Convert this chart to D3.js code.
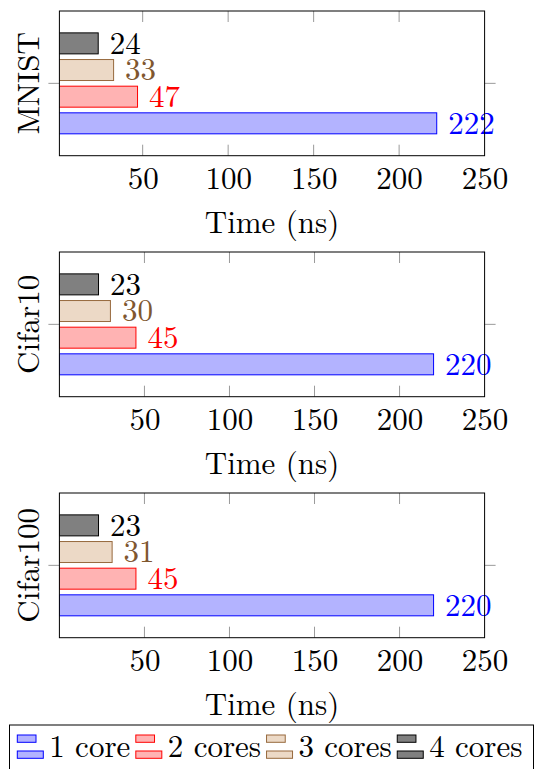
<!DOCTYPE html>
<html>
<head>
<meta charset="utf-8">
<script src="https://cdn.jsdelivr.net/npm/d3@7"></script>
<style>
  html, body { margin: 0; padding: 0; background: #fff; }
  svg { display: block; }
</style>
</head>
<body>
<svg id="chart" width="535" height="769"></svg>
<script>
// ---- data ----
const datasets = ["MNIST", "Cifar10", "Cifar100"];
const seriesNames = ["1 core", "2 cores", "3 cores", "4 cores"];
const core1 = [222, 220, 220];
const core2 = [47, 45, 45];
const core3 = [33, 30, 31];
const core4 = [24, 23, 23];
const xTickValues = [50, 100, 150, 200, 250];
const xMinByPanel = [1.3, 0, 0];
const xMax = 250;
const axisLabel = "Time (ns)";

// ---- styles ----
const FONT = '"Latin Modern Roman", "CMU Serif", "Liberation Serif", serif';
const seriesStyle = [
  { stroke: "#0000ff", fill: "#b3b3ff", text: "#0000ff" },
  { stroke: "#ff0000", fill: "#ffb3b3", text: "#ff0000" },
  { stroke: "#97693d", fill: "#ecd9c6", text: "#80572f" },
  { stroke: "#000000", fill: "#808080", text: "#000000" }
];
const seriesValues = [core1, core2, core3, core4];

const svg = d3.select("#chart");
const FS = 31;
const left = 59.4, right = 484.6;
const panelTop0 = 11, panelStep = 241, panelH = 144.7;

function txt(sel) {
  return sel.style("font-family", FONT).style("font-size", FS + "px");
}

datasets.forEach((name, i) => {
  const top = panelTop0 + i * panelStep;
  const bottom = top + panelH;
  const mid = (top + bottom) / 2;
  const g = svg.append("g");

  const x = d3.scaleLinear().domain([xMinByPanel[i], xMax]).range([left, right]);
  const y = d3.scaleBand()
    .domain(seriesNames.slice().reverse())
    .range([mid - 53.3, mid + 53.3])
    .paddingInner(0.2125).paddingOuter(0.10625);

  const clipId = "clip" + i;
  g.append("clipPath").attr("id", clipId)
    .append("rect").attr("x", left).attr("y", top).attr("width", right - left).attr("height", panelH);

  const rows = seriesNames.map((s, k) => ({ s, k, v: seriesValues[k][i] }));

  // bars
  g.append("g").attr("clip-path", `url(#${clipId})`)
    .selectAll("rect").data(rows).join("rect")
    .attr("x", x(0))
    .attr("y", d => y(d.s))
    .attr("width", d => x(d.v) - x(0))
    .attr("height", y.bandwidth())
    .attr("fill", d => seriesStyle[d.k].fill)
    .attr("stroke", d => seriesStyle[d.k].stroke)
    .attr("stroke-width", 1);

  // value labels
  txt(g.append("g").selectAll("text").data(rows).join("text"))
    .attr("x", d => x(d.v) + 11.5)
    .attr("y", d => y(d.s) + y.bandwidth() / 2 + 10.4)
    .attr("fill", d => seriesStyle[d.k].text)
    .text(d => d.v);

  // ticks
  const tickG = g.append("g").attr("stroke", "#9a9a9a").attr("stroke-width", 1);
  xTickValues.filter(v => v < xMax).forEach(v => {
    tickG.append("line").attr("x1", x(v)).attr("x2", x(v)).attr("y1", top).attr("y2", top + 11);
    tickG.append("line").attr("x1", x(v)).attr("x2", x(v)).attr("y1", bottom).attr("y2", bottom - 11);
  });
  tickG.append("line").attr("x1", left - 11).attr("x2", left).attr("y1", mid).attr("y2", mid);
  tickG.append("line").attr("x1", right).attr("x2", right + 11).attr("y1", mid).attr("y2", mid);

  // x tick labels via axis
  const axis = d3.axisBottom(x).tickValues(xTickValues).tickSize(0).tickPadding(0);
  const ag = g.append("g").attr("transform", `translate(0,${bottom})`).call(axis);
  ag.select(".domain").remove();
  txt(ag.selectAll("text"))
    .attr("fill", "#000")
    .attr("dy", null)
    .attr("y", 33.5);

  // x axis label
  txt(g.append("text"))
    .attr("x", (left + right) / 2)
    .attr("y", bottom + 77)
    .attr("text-anchor", "middle")
    .attr("fill", "#000")
    .text(axisLabel);

  // y axis label
  txt(g.append("text"))
    .attr("transform", `translate(38.5,${mid}) rotate(-90)`)
    .attr("text-anchor", "middle")
    .attr("fill", "#000")
    .text(name);

  // frame
  g.append("rect")
    .attr("x", left).attr("y", top)
    .attr("width", right - left).attr("height", panelH)
    .attr("fill", "none").attr("stroke", "#000").attr("stroke-width", 1);
});

// ---- legend ----
const legTop = 725;
const lg = svg.append("g");
lg.append("rect")
  .attr("x", 9.5).attr("y", legTop)
  .attr("width", 524).attr("height", 60)
  .attr("fill", "#fff").attr("stroke", "#000").attr("stroke-width", 1);

let lx = 17.3;
seriesNames.forEach((s, k) => {
  const st = seriesStyle[k];
  const eg = lg.append("g");
  eg.append("rect").attr("x", lx).attr("y", 735).attr("width", 18.7).attr("height", 7.3)
    .attr("fill", st.fill).attr("stroke", st.stroke).attr("stroke-width", 1);
  eg.append("rect").attr("x", lx).attr("y", 751).attr("width", 26).attr("height", 7.3)
    .attr("fill", st.fill).attr("stroke", st.stroke).attr("stroke-width", 1);
  const t = txt(eg.append("text"))
    .attr("x", lx + 32).attr("y", 757)
    .attr("fill", "#000")
    .text(s);
  const w = t.node().getComputedTextLength();
  lx = lx + 32 + w + 5.5;
});
</script>
</body>
</html>
